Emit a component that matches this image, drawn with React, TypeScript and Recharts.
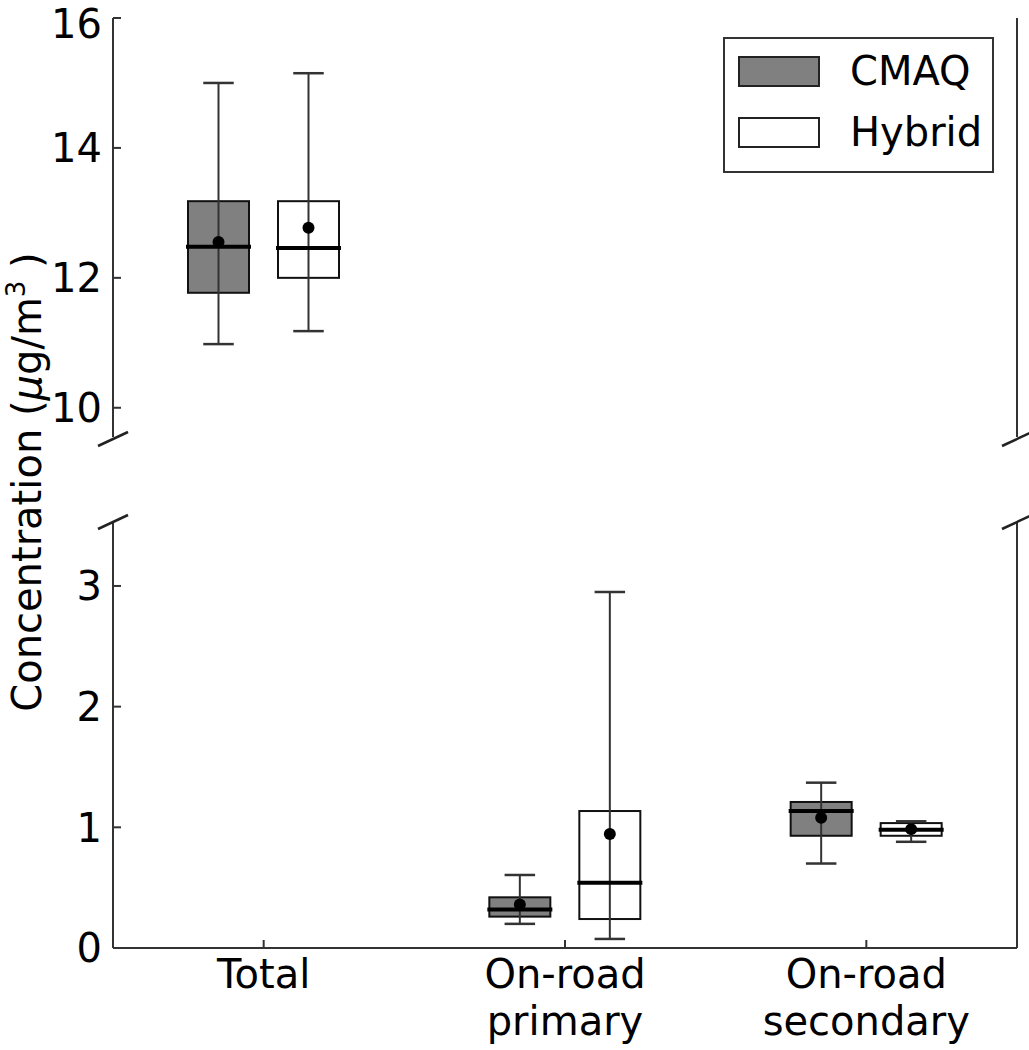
import React from 'react';
import { ComposedChart, Bar, Line, XAxis, YAxis, Legend } from 'recharts';

// categories along x, label lines split on \n
const categories = ['Total', 'On-road\nprimary', 'On-road\nsecondary'];
// which categories live in the upper (broken) panel
const upperCategories = ['Total'];

// box stats per category: [whisker low, q1, median, q3, whisker high, mean]
const cmaqStats = [
  [10.98, 11.77, 12.48, 13.18, 15.0, 12.55],
  [0.2, 0.26, 0.32, 0.42, 0.605, 0.36],
  [0.7, 0.93, 1.135, 1.21, 1.37, 1.08],
];
const hybridStats = [
  [11.18, 12.0, 12.46, 13.18, 15.15, 12.77],
  [0.075, 0.24, 0.54, 1.135, 2.95, 0.945],
  [0.88, 0.93, 0.98, 1.035, 1.05, 0.985],
];

const seriesNames = ['CMAQ', 'Hybrid'];
const seriesFills = ['#808080', '#ffffff'];

const upperTicks = [10, 12, 14, 16];
const upperDomain = [9.55, 16];
const lowerTicks = [0, 1, 2, 3];
const lowerDomain = [0, 3.53];

const FONT = 'DejaVu Sans';
const AXIS = '#333';
const W = 1029;
const PLOT_LEFT = 113;
const PLOT_RIGHT = 1017;
const UPPER_BOTTOM = 437;
const LOWER_TOP = 522;

const buildRows = (upper: boolean) =>
  categories.map((name, i) => {
    const keep = upperCategories.includes(name) === upper;
    return {
      name,
      cmaq: keep ? cmaqStats[i] : null,
      hybrid: keep ? hybridStats[i] : null,
    };
  });

const upperData = buildRows(true);
const lowerData = buildRows(false);

const rangeOf = (key: string) => (d: any) => (d[key] ? [d[key][0], d[key][4]] : null);

// draws a whole box-and-whisker from the bar rect spanning whisker low..high
const BoxShape = (props: any) => {
  const { x, y, width, height, payload, fill, statKey } = props;
  const s = payload && payload[statKey];
  if (!s || !height) return null;
  const [lo, q1, med, q3, hi, mean] = s;
  const top = Math.min(y, y + height);
  const k = Math.abs(height) / (hi - lo);
  const py = (v: number) => top + (hi - v) * k;
  const cx = x + width / 2;
  const cap = width / 4;
  return (
    <g>
      <rect x={x} y={py(q3)} width={width} height={py(q1) - py(q3)} fill={fill} stroke="#111" strokeWidth={2} />
      <line x1={cx} x2={cx} y1={py(hi)} y2={py(lo)} stroke={AXIS} strokeWidth={2} />
      <line x1={cx - cap} x2={cx + cap} y1={py(hi)} y2={py(hi)} stroke={AXIS} strokeWidth={2.5} />
      <line x1={cx - cap} x2={cx + cap} y1={py(lo)} y2={py(lo)} stroke={AXIS} strokeWidth={2.5} />
      <line x1={x - 2} x2={x + width + 2} y1={py(med)} y2={py(med)} stroke="#000" strokeWidth={4} />
      <circle cx={cx} cy={py(mean)} r={6} fill="#000" />
    </g>
  );
};

const LegendBox = (props: any) => {
  const items = (props.payload || []).filter((it: any) => seriesNames.includes(it.value));
  return (
    <div
      style={{
        width: 271,
        height: 136,
        border: `2px solid ${AXIS}`,
        boxSizing: 'border-box',
        background: '#fff',
        position: 'relative',
        fontFamily: FONT,
      }}
    >
      {items.map((it: any, i: number) => (
        <div key={it.value} style={{ position: 'absolute', left: 13, top: 17 + i * 61, display: 'flex', alignItems: 'center' }}>
          <div
            style={{
              width: 82,
              height: 31,
              background: seriesFills[seriesNames.indexOf(it.value)] ?? it.color,
              border: '2px solid #222',
              boxSizing: 'border-box',
            }}
          />
          <span style={{ marginLeft: 30, fontSize: 40, lineHeight: '31px', color: '#000' }}>{it.value}</span>
        </div>
      ))}
    </div>
  );
};

const CategoryTick = (props: any) => {
  const { x, y, payload } = props;
  const lines = String(payload.value).split('\n');
  return (
    <text textAnchor="middle" fontSize={40} fontFamily={FONT} fill="#000">
      {lines.map((l, i) => (
        <tspan key={i} x={x} y={y + 40 + i * 47}>
          {l}
        </tspan>
      ))}
    </text>
  );
};

const yTick = { fill: '#000', fontSize: 40, fontFamily: FONT };

function boxSeries() {
  return [
    <Bar
      key="cmaq"
      yAxisId="left"
      name={seriesNames[0]}
      dataKey={rangeOf('cmaq')}
      fill={seriesFills[0]}
      barSize={61}
      isAnimationActive={false}
      shape={(p: any) => <BoxShape {...p} statKey="cmaq" />}
    />,
    <Bar
      key="hybrid"
      yAxisId="left"
      name={seriesNames[1]}
      dataKey={rangeOf('hybrid')}
      fill={seriesFills[1]}
      barSize={61}
      isAnimationActive={false}
      shape={(p: any) => <BoxShape {...p} statKey="hybrid" />}
    />,
    // empty series so the mirrored right axis gets drawn
    <Line
      key="frame"
      yAxisId="right"
      dataKey="none"
      stroke="none"
      dot={false}
      activeDot={false}
      legendType="none"
      isAnimationActive={false}
    />,
  ];
}

function yAxes(domain: number[], ticks: number[]) {
  return [
    <YAxis
      key="l"
      yAxisId="left"
      type="number"
      domain={domain}
      ticks={ticks}
      allowDataOverflow
      width={PLOT_LEFT}
      tick={yTick}
      tickSize={-8}
      tickMargin={19}
      tickLine={{ stroke: AXIS, strokeWidth: 2 }}
      axisLine={{ stroke: AXIS, strokeWidth: 2 }}
    />,
    <YAxis
      key="r"
      yAxisId="right"
      orientation="right"
      type="number"
      domain={domain}
      ticks={ticks}
      allowDataOverflow
      width={1}
      tick={false}
      tickSize={-8}
      tickLine={{ stroke: AXIS, strokeWidth: 2 }}
      axisLine={{ stroke: AXIS, strokeWidth: 2 }}
    />,
  ];
}

export default function App() {
  const brk = (cx: number, cy: number, k: string) => (
    <line key={k} x1={cx - 15} y1={cy + 7} x2={cx + 15} y2={cy - 7} stroke="#222" strokeWidth={2.5} />
  );
  return (
    <div style={{ position: 'absolute', left: 0, top: 0, width: W, height: 1050, background: '#fff', fontFamily: FONT }}>
      <div style={{ position: 'absolute', left: 0, top: 0 }}>
        <ComposedChart
          width={W}
          height={UPPER_BOTTOM}
          data={upperData}
          barGap={29}
          margin={{ top: 18, right: W - PLOT_RIGHT - 1, bottom: 0, left: 0 }}
        >
          <XAxis
            dataKey="name"
            orientation="top"
            height={0}
            tick={false}
            tickSize={-8}
            tickLine={{ stroke: AXIS, strokeWidth: 2 }}
            axisLine={{ stroke: AXIS, strokeWidth: 2 }}
          />
          {yAxes(upperDomain, upperTicks)}
          {boxSeries()}
          <Legend
            layout="horizontal"
            verticalAlign="middle"
            align="center"
            content={<LegendBox />}
            wrapperStyle={{ top: 37, left: 723, width: 271, height: 136 }}
          />
        </ComposedChart>
      </div>
      <div style={{ position: 'absolute', left: 0, top: 500 }}>
        <ComposedChart
          width={W}
          height={550}
          data={lowerData}
          barGap={29}
          margin={{ top: LOWER_TOP - 500, right: W - PLOT_RIGHT - 1, bottom: 0, left: 0 }}
        >
          <XAxis
            dataKey="name"
            orientation="bottom"
            height={102}
            tick={<CategoryTick />}
            tickSize={-8}
            tickMargin={8}
            interval={0}
            tickLine={{ stroke: AXIS, strokeWidth: 2 }}
            axisLine={{ stroke: AXIS, strokeWidth: 2 }}
          />
          {yAxes(lowerDomain, lowerTicks)}
          {boxSeries()}
        </ComposedChart>
      </div>
      <svg width={W} height={1050} style={{ position: 'absolute', left: 0, top: 0, pointerEvents: 'none' }}>
        {brk(PLOT_LEFT, UPPER_BOTTOM + 2, 'a')}
        {brk(PLOT_RIGHT, UPPER_BOTTOM + 2, 'b')}
        {brk(PLOT_LEFT, LOWER_TOP, 'c')}
        {brk(PLOT_RIGHT, LOWER_TOP, 'd')}
        <text x={41} y={482} transform="rotate(-90 41 482)" textAnchor="middle" fontSize={40} fontFamily={FONT} fill="#000">
          Concentration (<tspan fontStyle="italic">μ</tspan>g/m
          <tspan fontSize={26} dy={-16}>3</tspan>
          <tspan dy={16}> )</tspan>
        </text>
      </svg>
    </div>
  );
}
